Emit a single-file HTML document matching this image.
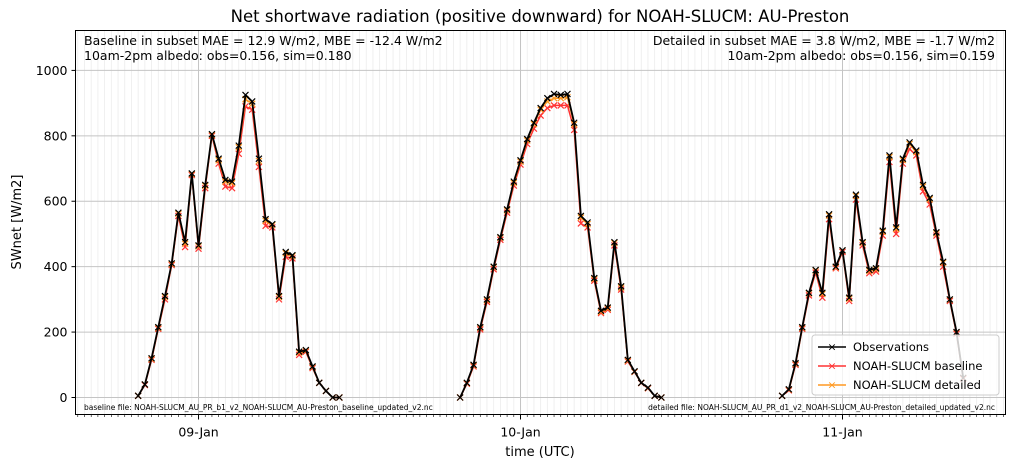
<!DOCTYPE html>
<html><head><meta charset="utf-8">
<style>
body{margin:0;background:#fff;font-family:"Liberation Sans","DejaVu Sans",sans-serif;}
svg text{font-family:"DejaVu Sans","Liberation Sans",sans-serif;}
</style></head>
<body>
<svg id="chart" width="1014" height="468" xmlns="http://www.w3.org/2000/svg">
<rect width="1014" height="468" fill="#fff"/>
<g id="grid"></g>
<g id="series"></g>
<rect x="75.5" y="30.5" width="930" height="384" fill="none" stroke="#000" stroke-width="1"/>
<g id="axes"></g>
<text x="540" y="22" font-size="16.5" text-anchor="middle">Net shortwave radiation (positive downward) for NOAH-SLUCM: AU-Preston</text>
<text x="84" y="45" font-size="12.5">Baseline in subset MAE = 12.9 W/m2, MBE = -12.4 W/m2</text>
<text x="84" y="60" font-size="12.5">10am-2pm albedo: obs=0.156, sim=0.180</text>
<text x="995" y="45" font-size="12.5" text-anchor="end">Detailed in subset MAE = 3.8 W/m2, MBE = -1.7 W/m2</text>
<text x="995" y="60" font-size="12.5" text-anchor="end">10am-2pm albedo: obs=0.156, sim=0.159</text>
<text x="84" y="410" font-size="7.5">baseline file: NOAH-SLUCM_AU_PR_b1_v2_NOAH-SLUCM_AU-Preston_baseline_updated_v2.nc</text>
<text x="995" y="410" font-size="7.5" text-anchor="end">detailed file: NOAH-SLUCM_AU_PR_d1_v2_NOAH-SLUCM_AU-Preston_detailed_updated_v2.nc</text>
<text x="540" y="456" font-size="13" text-anchor="middle">time (UTC)</text>
<text x="21" y="222" font-size="13" text-anchor="middle" transform="rotate(-90 21 222)">SWnet [W/m2]</text>
<g>
<rect x="812" y="335" width="187" height="60" rx="3" fill="#fff" fill-opacity="0.8" stroke="#ccc"/>
<line x1="818" y1="347" x2="846" y2="347" stroke="#000" stroke-width="1.5"/><text x="832" y="350.5" font-size="11" text-anchor="middle">×</text>
<text x="853" y="351" font-size="11.5">Observations</text>
<line x1="818" y1="366" x2="846" y2="366" stroke="#ff3333" stroke-width="1.5"/><text x="832" y="369.5" font-size="11" fill="#ff3333" text-anchor="middle">×</text>
<text x="853" y="370" font-size="11.5">NOAH-SLUCM baseline</text>
<line x1="818" y1="385" x2="846" y2="385" stroke="#ff9922" stroke-width="1.5"/><text x="832" y="388.5" font-size="11" fill="#ff9922" text-anchor="middle">×</text>
<text x="853" y="389" font-size="11.5">NOAH-SLUCM detailed</text>
</g>
</svg>
<script>
// hours relative to 09-Jan 00:00 UTC for first point of each day; half-hour steps
const dayStarts = [-4.5, 19.5, 43.5];
const obsD1 = [5,40,120,215,310,410,565,475,685,465,650,805,730,665,660,770,925,905,730,545,530,310,445,435,140,145,95,45,20,0,0];
const obsD2 = [0,45,100,215,300,400,490,575,660,725,790,840,885,915,928,925,928,840,555,535,365,265,275,475,340,115,80,45,30,5,0];
const obsD3 = [5,25,105,215,320,390,320,560,400,450,305,620,475,390,395,510,740,520,730,780,755,650,610,505,415,300,200,60];
const baseD1 = [5,38,115,210,300,405,555,460,680,455,640,800,715,645,640,745,890,880,705,525,520,300,430,425,130,140,90,45,20,0,0];
const baseD2 = [0,42,95,208,292,392,482,565,648,712,775,822,862,885,893,893,893,818,532,520,357,258,268,465,330,110,78,44,28,5,0];
const baseD3 = [5,22,100,210,312,382,305,545,395,445,295,605,465,380,385,495,720,500,715,760,740,630,590,495,400,295,195,58];
const detD1 = [5,40,118,213,307,408,562,470,683,462,647,803,725,660,655,765,912,898,723,540,527,307,441,432,137,143,93,45,20,0,0];
const detD2 = [0,44,98,213,297,398,488,572,656,721,786,836,880,905,915,915,918,835,550,530,362,262,272,472,336,113,79,45,29,5,0];
const detD3 = [5,24,103,213,318,388,316,556,398,449,302,616,472,387,392,506,735,515,726,775,750,645,606,502,412,299,199,60];
const yTicks = [0,200,400,600,800,1000];
const xTickLabels = ["09-Jan","10-Jan","11-Jan"];

const NS="http://www.w3.org/2000/svg";
const X0=75.5, X1=1005.5, Y0=30.5, Y1=414.5;
const hMin=-9.17, hMax=60.15;
const vMin=-52, vMax=1122;
function xs(h){return X0+(h-hMin)/(hMax-hMin)*(X1-X0);}
function ys(v){return Y1-(v-vMin)/(vMax-vMin)*(Y1-Y0);}
function mk(tag,attrs,parent){const e=document.createElementNS(NS,tag);for(const k in attrs)e.setAttribute(k,attrs[k]);parent.appendChild(e);return e;}
const grid=document.getElementById('grid'), axes=document.getElementById('axes'), series=document.getElementById('series');
for(let h=Math.ceil(hMin*2)/2;h<=hMax;h+=0.5){
  const x=xs(h);
  const isMajor=Math.abs(h/24-Math.round(h/24))<1e-6;
  if(!isMajor){
    const g=mk('line',{x1:x,x2:x,y1:Y0,y2:Y1,stroke:'#ececec','stroke-width':0.8},grid);
    
    
  }
  const t=mk('line',{x1:x,x2:x,y1:Y1,y2:Y1+(isMajor?5:2.5),stroke:'#000','stroke-width':isMajor?1:0.6},axes);
  
  
}
xTickLabels.forEach((lab,i)=>{
  const x=xs(i*24);
  const g=mk('line',{x1:x,x2:x,y1:Y0,y2:Y1,stroke:'#c4c4c4','stroke-width':1},grid);
  
  
  const t=mk('text',{x:x,y:Y1+22,'font-size':12.5,'text-anchor':'middle'},axes);
  t.textContent=lab;
  
  
});
yTicks.forEach(v=>{
  const y=ys(v);
  const g=mk('line',{x1:X0,x2:X1,y1:y,y2:y,stroke:'#c4c4c4','stroke-width':1},grid);
  
  
  const t=mk('line',{x1:X0-4,x2:X0,y1:y,y2:y,stroke:'#000'},axes);
  
  
  const l=mk('text',{x:X0-8,y:y+4.5,'font-size':12.5,'text-anchor':'end'},axes);
  l.textContent=v;
  
  
});
function drawSeries(days,color,name,w){
  days.forEach((arr,d)=>{
    const pts=arr.map((v,i)=>[xs(dayStarts[d]+i*0.5),ys(v)]);
    const p=mk('polyline',{points:pts.map(p=>p.join(',')).join(' '),fill:'none',stroke:color,'stroke-width':w,'stroke-linejoin':'round'},series);
    
    
    pts.forEach(([x,y])=>{
      const m=mk('path',{d:`M${x-3},${y-3}L${x+3},${y+3}M${x-3},${y+3}L${x+3},${y-3}`,stroke:color,'stroke-width':1.2},series);
      
      
    });
  });
}
drawSeries([baseD1,baseD2,baseD3],'#ff3333','baseline',1.5);
drawSeries([detD1,detD2,detD3],'#ff9922','detailed',1.5);
drawSeries([obsD1,obsD2,obsD3],'#000000','observations',1.8);
</script>
</body></html>
